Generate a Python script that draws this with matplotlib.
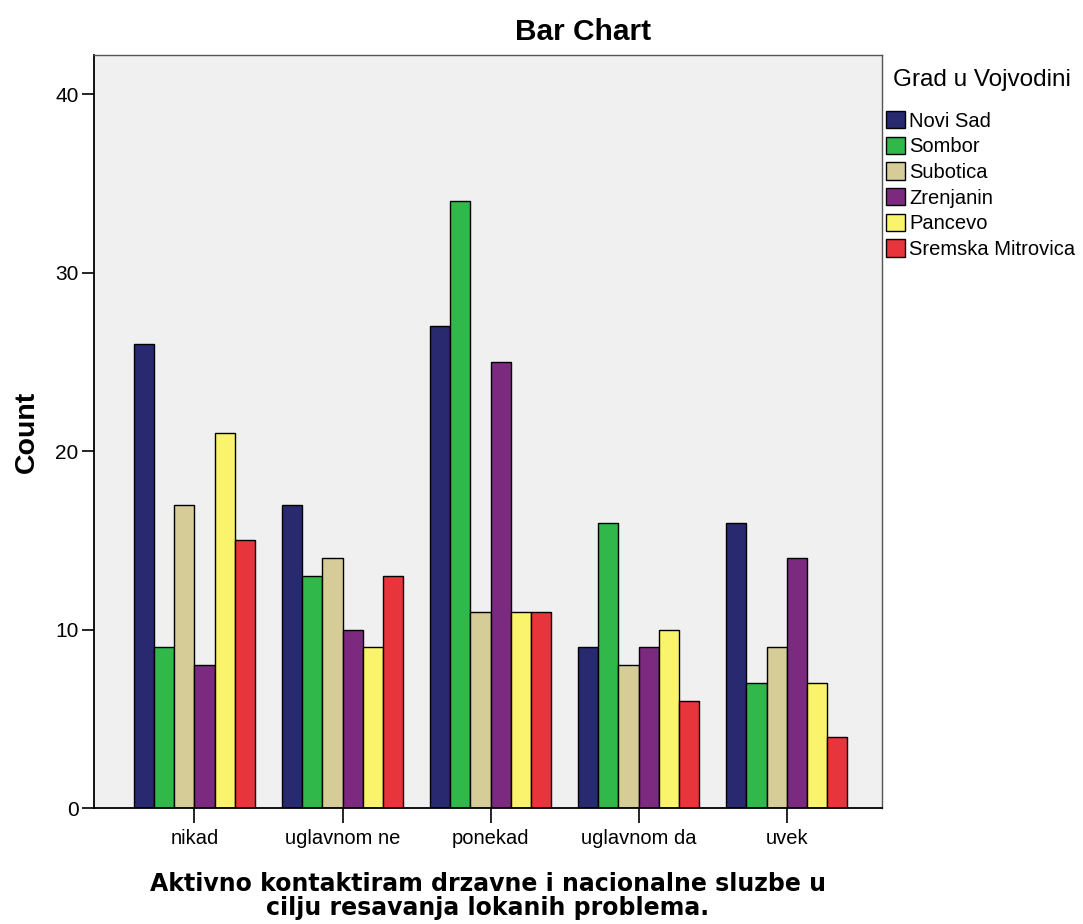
import matplotlib
matplotlib.use("Agg")
import matplotlib.pyplot as plt
import numpy as np

categories = ["nikad", "uglavnom ne", "ponekad", "uglavnom da", "uvek"]
cities = ["Novi Sad", "Sombor", "Subotica", "Zrenjanin", "Pancevo", "Sremska Mitrovica"]
novi_sad = [26, 17, 27, 9, 16]
sombor = [9, 13, 34, 16, 7]
subotica = [17, 14, 11, 8, 9]
zrenjanin = [8, 10, 25, 9, 14]
pancevo = [21, 9, 11, 10, 7]
sremska = [15, 13, 11, 6, 4]
series = [novi_sad, sombor, subotica, zrenjanin, pancevo, sremska]
colors = ["#28296f", "#30b84a", "#d5cc98", "#7c2a80", "#faf46c", "#e8353b"]
yticks = [0, 10, 20, 30, 40]

fig = plt.figure(figsize=(10.83, 9.24), dpi=100)
ax = fig.add_axes([0.0868, 0.1255, 0.7276, 0.815])
ax.set_facecolor("#f0f0f0")

x = np.arange(len(categories))
group_w = 0.82
bw = group_w / len(cities)
for i, (name, vals, c) in enumerate(zip(cities, series, colors)):
    offs = -group_w / 2 + bw * (i + 0.5)
    ax.bar(x + offs, vals, width=bw, color=c, edgecolor="black", linewidth=1.0, label=name)

ax.set_xlim(-0.678, 4.643)
ax.set_ylim(0, 42.2)
ax.set_yticks(yticks)
ax.set_xticks(x)
ax.set_xticklabels(categories, family="Liberation Sans", fontsize=14.5)
for lab in ax.get_yticklabels():
    lab.set_family("Liberation Sans")
    lab.set_fontsize(15)
ax.tick_params(axis="x", length=11, width=1.2, pad=4)
ax.tick_params(axis="y", length=9, width=1.2, pad=2)

for s in ["left", "bottom"]:
    ax.spines[s].set_linewidth(1.3)
    ax.spines[s].set_color("black")
for s in ["top", "right"]:
    ax.spines[s].set_linewidth(1.0)
    ax.spines[s].set_color("#555555")

ax.set_ylabel("Count", family="Liberation Sans", fontweight="bold", fontsize=20.5)
ax.yaxis.set_label_coords(-0.069, 0.5)
fig.text(488 / 1083, 1 - 896 / 924,
         "Aktivno kontaktiram drzavne i nacionalne sluzbe u\ncilju resavanja lokanih problema.",
         family="DejaVu Sans", fontweight="bold", fontsize=17, linespacing=1.0,
         ha="center", va="center")
fig.text(583 / 1083, 1 - 32 / 924, "Bar Chart", family="Liberation Sans",
         fontweight="bold", fontsize=21.5, ha="center", va="center")
fig.text(893 / 1083, 1 - 80 / 924, "Grad u Vojvodini", family="Liberation Sans",
         fontsize=17.5, ha="left", va="center")

leg = fig.legend(loc="upper left", bbox_to_anchor=(882 / 1083, 1 - 107 / 924), frameon=False,
                 prop={"family": "Liberation Sans", "size": 14.5},
                 handlelength=0.95, handleheight=0.95, handletextpad=0.2,
                 labelspacing=0.3, borderaxespad=0.0, borderpad=0.2)

fig.savefig("out.png", dpi=100)
